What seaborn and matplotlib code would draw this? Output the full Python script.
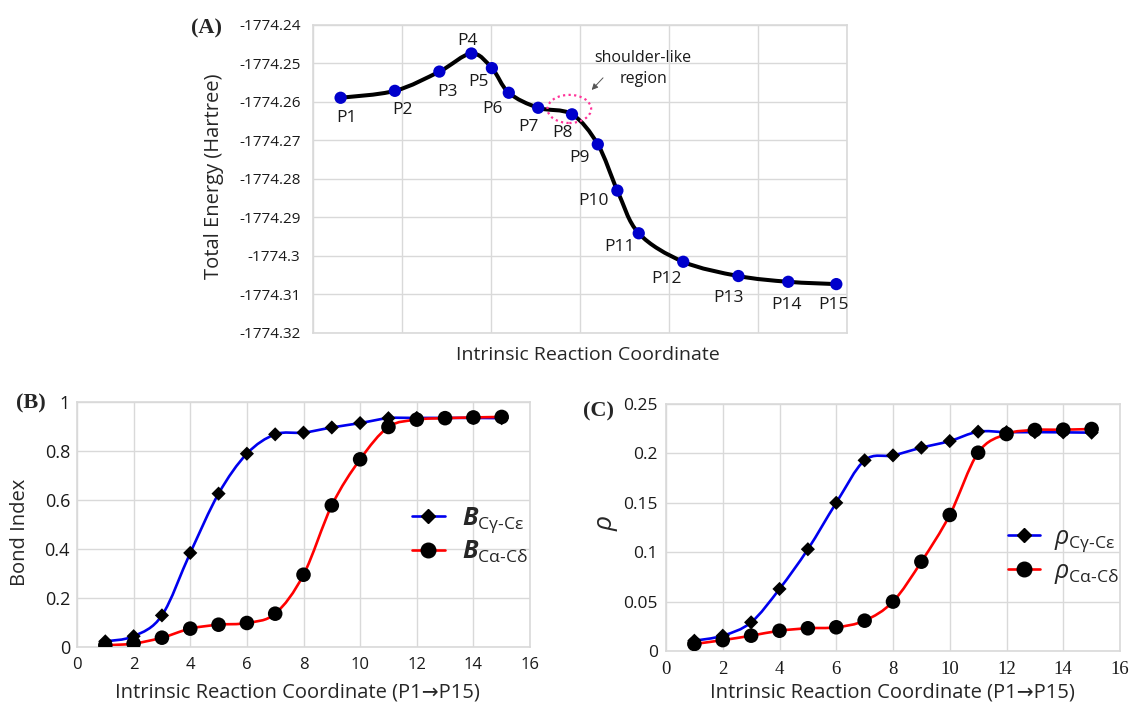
import numpy as np
import matplotlib
matplotlib.use("Agg")
import matplotlib.pyplot as plt
import seaborn as sns
from matplotlib.path import Path
from matplotlib.patches import PathPatch, Ellipse
from matplotlib.lines import Line2D

# Data
# (A) IRC energy profile
irc_labels = ['P1', 'P2', 'P3', 'P4', 'P5', 'P6', 'P7', 'P8',
              'P9', 'P10', 'P11', 'P12', 'P13', 'P14', 'P15']
irc_coord = [0.31, 0.92, 1.42, 1.78, 2.01, 2.20, 2.53, 2.91,
             3.20, 3.42, 3.66, 4.16, 4.78, 5.34, 5.88]
energy = [-1774.2589, -1774.2571, -1774.2521, -1774.2474, -1774.2512,
          -1774.2576, -1774.2615, -1774.2632, -1774.2710, -1774.2830,
          -1774.2941, -1774.3015, -1774.3052, -1774.3067, -1774.3073]
# label offsets in pixels (dx, dy)
label_off = [(6, -20), (8, -19), (8, -20), (-4, 12), (-13, -14), (-16, -16),
             (-10, -19), (-9, -19), (-18, -14), (-24, -10), (-19, -14),
             (-17, -17), (-10, -22), (-2, -23), (-3, -21)]

# (B) bond index and (C) rho
points = list(range(1, 16))
bond_ge = [0.023, 0.044, 0.129, 0.384, 0.626, 0.789, 0.868, 0.875,
           0.896, 0.914, 0.934, 0.935, 0.935, 0.935, 0.934]
bond_ad = [0.007, 0.014, 0.038, 0.075, 0.091, 0.098, 0.136, 0.295,
           0.578, 0.766, 0.898, 0.928, 0.934, 0.937, 0.939]
rho_ge = [0.0104, 0.0155, 0.029, 0.0628, 0.103, 0.150, 0.193, 0.198,
          0.2058, 0.2125, 0.222, 0.2215, 0.2215, 0.2213, 0.221]
rho_ad = [0.0071, 0.011, 0.0155, 0.0205, 0.023, 0.024, 0.0307, 0.050,
          0.0904, 0.1377, 0.2007, 0.2196, 0.2237, 0.224, 0.2247]

sns.set_theme(style="whitegrid")
plt.rcParams['font.family'] = ['Open Sans', 'DejaVu Sans']
plt.rcParams['mathtext.fontset'] = 'custom'
plt.rcParams['mathtext.rm'] = 'Open Sans'
plt.rcParams['mathtext.it'] = 'Open Sans:italic'
plt.rcParams['mathtext.bf'] = 'Open Sans:bold'
plt.rcParams['mathtext.bfit'] = 'Open Sans:italic:bold'

GRID = '#d9d9d9'
W, H = 1131, 706


def smooth_curve(ax, x, y, color, lw):
    # Excel-like smoothed line as cubic Bezier segments through the points
    x = np.asarray(x, float)
    y = np.asarray(y, float)
    n = len(x)
    verts = [(x[0], y[0])]
    codes = [Path.MOVETO]
    for i in range(n - 1):
        a = i - 1 if i > 0 else i
        b = i + 2 if i + 2 < n else i + 1
        c1 = (x[i] + (x[i + 1] - x[a]) / 6, y[i] + (y[i + 1] - y[a]) / 6)
        c2 = (x[i + 1] - (x[b] - x[i]) / 6, y[i + 1] - (y[b] - y[i]) / 6)
        verts += [c1, c2, (x[i + 1], y[i + 1])]
        codes += [Path.CURVE4] * 3
    ax.add_patch(PathPatch(Path(verts, codes), fill=False, edgecolor=color,
                           lw=lw, capstyle='round', joinstyle='round', zorder=2))


def style_axes(ax, size=11):
    ax.grid(True, color=GRID, lw=1)
    for s in ax.spines.values():
        s.set_color(GRID)
        s.set_linewidth(1.2)
    ax.tick_params(length=0, labelsize=size, colors='#1a1a1a')


def px_axes(l, r, t, b):
    return fig.add_axes([l / W, (H - b) / H, (r - l) / W, (b - t) / H])


fig = plt.figure(figsize=(W / 100, H / 100), dpi=100)

# ---------- (A)
axA = px_axes(313, 847, 25, 333)
style_axes(axA, 11)
smooth_curve(axA, irc_coord, energy, 'black', 2.9)
sns.scatterplot(x=irc_coord, y=energy, ax=axA, color='#0000cc', s=78,
                edgecolor='none', zorder=3, legend=False)
axA.set_xlim(0, 6)
axA.set_ylim(-1774.32, -1774.24)
axA.set_xticks(range(0, 7))
axA.set_xticklabels([])
yt = np.round(np.arange(-1774.32, -1774.235, 0.01), 2)
axA.set_yticks(yt)
axA.set_yticklabels([f"{v:.2f}".rstrip('0') for v in yt])
axA.tick_params(axis='y', pad=9)
for lab, xv, yv, (dx, dy) in zip(irc_labels, irc_coord, energy, label_off):
    axA.annotate(lab, (xv, yv), xytext=(dx, dy), textcoords='offset pixels',
                 ha='center', va='center', fontsize=12.5, color='#1a1a1a')
axA.add_patch(Ellipse((2.88, -1774.2618), 0.49, 0.0073, fill=False,
                      edgecolor='#ff3399', lw=1.6, ls=(0, (1, 1.5)), zorder=4))
axA.annotate('', xy=(3.11, -1774.2574), xytext=(3.28, -1774.2532),
             arrowprops=dict(arrowstyle='-|>,head_width=0.15,head_length=0.3',
                             color='#555555', lw=0.7))
axA.text(3.71, -1774.2513, 'shoulder-like\nregion', ha='center', va='center',
         fontsize=11.5, linespacing=1.45, color='#1a1a1a')
axA.set_xlabel('Intrinsic Reaction Coordinate', fontsize=14)
axA.set_ylabel('Total Energy (Hartree)', fontsize=14.5)
axA.xaxis.label.set_va('center')
axA.yaxis.label.set_va('center')
axA.xaxis.set_label_coords(0.515, -0.071)
axA.yaxis.set_label_coords(-0.185, 0.508)

# ---------- (B)
axB = px_axes(77, 530, 402, 647)
style_axes(axB, 13)
smooth_curve(axB, points, bond_ge, '#0000ee', 1.9)
smooth_curve(axB, points, bond_ad, '#ff0000', 1.9)
sns.scatterplot(x=points, y=bond_ge, ax=axB, marker='D', color='black', s=52,
                edgecolor='none', zorder=3, legend=False)
sns.scatterplot(x=points, y=bond_ad, ax=axB, marker='o', color='black', s=110,
                edgecolor='none', zorder=3, legend=False)
axB.set_xlim(0, 16)
axB.set_ylim(0, 1)
axB.set_xticks(range(0, 17, 2))
axB.set_yticks(np.arange(0, 1.01, 0.2))
axB.set_yticklabels(['0', '0.2', '0.4', '0.6', '0.8', '1'])
axB.tick_params(axis='y', pad=5)
axB.tick_params(axis='x', pad=7, labelsize=12)
hB = [Line2D([], [], color='#0000ee', lw=1.9, marker='D', ms=7.2, mfc='black', mec='black'),
      Line2D([], [], color='#ff0000', lw=1.9, marker='o', ms=10.5, mfc='black', mec='black')]
axB.legend(hB, [r'$\mathbfit{B}_{\mathrm{C\gamma\text{-}C\varepsilon}}$',
                r'$\mathbfit{B}_{\mathrm{C\alpha\text{-}C\delta}}$'],
           loc='center left', bbox_to_anchor=(0.74, 0.457), frameon=False,
           fontsize=18, handlelength=1.3, handletextpad=0.7, labelspacing=0.15,
           borderpad=0, borderaxespad=0)
axB.set_xlabel('Intrinsic Reaction Coordinate (P1\u2192P15)', fontsize=14.5)
axB.set_ylabel('Bond Index', fontsize=14.5)
axB.xaxis.label.set_va('center')
axB.yaxis.label.set_va('center')
axB.xaxis.set_label_coords(0.487, -0.184)
axB.yaxis.set_label_coords(-0.125, 0.469)

# ---------- (C)
axC = px_axes(666, 1120, 404, 651)
style_axes(axC, 12.5)
smooth_curve(axC, points, rho_ge, '#0000ee', 1.9)
smooth_curve(axC, points, rho_ad, '#ff0000', 1.9)
sns.scatterplot(x=points, y=rho_ge, ax=axC, marker='D', color='black', s=52,
                edgecolor='none', zorder=3, legend=False)
sns.scatterplot(x=points, y=rho_ad, ax=axC, marker='o', color='black', s=110,
                edgecolor='none', zorder=3, legend=False)
axC.set_xlim(0, 16)
axC.set_ylim(0, 0.25)
axC.set_xticks(range(0, 17, 2))
axC.set_yticks(np.arange(0, 0.251, 0.05))
axC.set_yticklabels(['0', '0.05', '0.1', '0.15', '0.2', '0.25'])
for t in axC.get_xticklabels():
    t.set_fontfamily('Liberation Serif')
    t.set_fontsize(13.5)
axC.tick_params(axis='y', pad=6)
axC.tick_params(axis='x', pad=7)
hC = [Line2D([], [], color='#0000ee', lw=1.9, marker='D', ms=7.2, mfc='black', mec='black'),
      Line2D([], [], color='#ff0000', lw=1.9, marker='o', ms=10.5, mfc='black', mec='black')]
axC.legend(hC, [r'$\rho_{\mathrm{C\gamma\text{-}C\varepsilon}}$',
                r'$\rho_{\mathrm{C\alpha\text{-}C\delta}}$'],
           loc='center left', bbox_to_anchor=(0.753, 0.387), frameon=False,
           fontsize=18, handlelength=1.3, handletextpad=0.55, labelspacing=0.2,
           borderpad=0, borderaxespad=0)
axC.set_xlabel('Intrinsic Reaction Coordinate (P1\u2192P15)', fontsize=14.5)
axC.set_ylabel(r'$\rho$', fontsize=19)
axC.xaxis.label.set_va('center')
axC.yaxis.label.set_va('center')
axC.xaxis.set_label_coords(0.498, -0.170)
axC.yaxis.set_label_coords(-0.128, 0.518)

# panel letters
for lab, xp, yp in [('(A)', 206, 28), ('(B)', 31, 403), ('(C)', 599, 411)]:
    fig.text(xp / W, 1 - yp / H, lab, ha='center', va='center', fontsize=16,
             fontweight='bold', family='Liberation Serif')

fig.savefig('out.png', dpi=100)
